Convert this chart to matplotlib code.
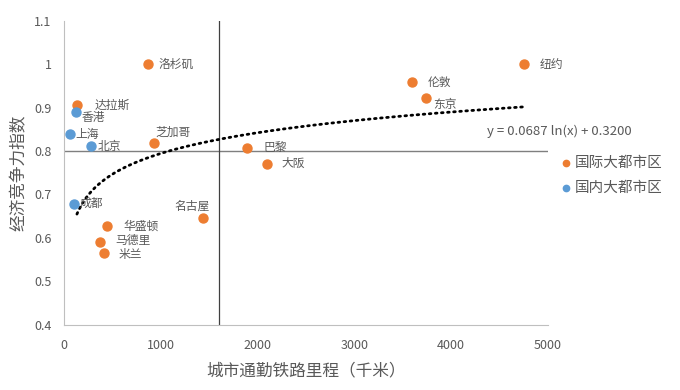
import matplotlib

matplotlib.use("Agg")
import matplotlib.pyplot as plt
import numpy as np

plt.rcParams["font.family"] = ["Noto Sans CJK SC", "DejaVu Sans"]

# International metro areas (orange)
intl_names = ["洛杉矶", "达拉斯", "芝加哥", "巴黎", "大阪", "名古屋", "华盛顿",
              "马德里", "米兰", "伦敦", "东京", "纽约"]
intl_km = [862, 131, 927, 1885, 2092, 1437, 444, 372, 407, 3601, 3742, 4759]
intl_idx = [1.000, 0.905, 0.818, 0.808, 0.771, 0.647, 0.627, 0.591, 0.566,
            0.959, 0.922, 1.000]

# Domestic metro areas (blue)
dom_names = ["香港", "上海", "北京", "成都"]
dom_km = [121, 59, 276, 97]
dom_idx = [0.889, 0.839, 0.811, 0.679]

# Log trendline for the international series
trend_a, trend_b = 0.0687, 0.3200
ref_x, ref_y = 1600, 0.8

# label offsets in points (dx, dy, ha)
label_pos = {
    "洛杉矶": (8, 0, "left"), "达拉斯": (13, 0, "left"), "芝加哥": (1, 8, "left"),
    "巴黎": (12, 0, "left"), "大阪": (11, 0, "left"), "名古屋": (-8, 8, "center"),
    "华盛顿": (12, 0, "left"), "马德里": (11, 1, "left"), "米兰": (11, -1, "left"),
    "伦敦": (11, 0, "left"), "东京": (5, -5, "left"), "纽约": (11, 0, "left"),
    "香港": (4, -4, "left"), "上海": (4, 0, "left"), "北京": (5, 0, "left"),
    "成都": (4, 0, "left"),
}

ORANGE = "#ED7D31"
BLUE = "#5B9BD5"
TXT = "#595959"

fig = plt.figure(figsize=(6.8, 3.9), dpi=100)
ax = fig.add_axes([0.0945, 0.167, 0.711, 0.78])

ax.axhline(ref_y, color="#7f7f7f", lw=1.0, zorder=1)
ax.axvline(ref_x, color="#404040", lw=0.9, zorder=1)

xs = np.linspace(min(intl_km), max(intl_km), 300)
ax.plot(xs, trend_a * np.log(xs) + trend_b, color="black", lw=2.0,
        linestyle=(0, (0.6, 1.6)), dash_capstyle="round", zorder=2)

ax.scatter(intl_km, intl_idx, s=42, color=ORANGE, zorder=3, label="国际大都市区")
ax.scatter(dom_km, dom_idx, s=42, color=BLUE, zorder=3, label="国内大都市区")

for names, xv, yv in ((intl_names, intl_km, intl_idx), (dom_names, dom_km, dom_idx)):
    for n, x, y in zip(names, xv, yv):
        dx, dy, ha = label_pos[n]
        ax.annotate(n, (x, y), xytext=(dx, dy), textcoords="offset points",
                    ha=ha, va="center", fontsize=8.5, color=TXT)

ax.text(0.875, 0.635, "y = 0.0687 ln(x) + 0.3200", transform=ax.transAxes,
        fontsize=9.5, color=TXT, ha="left", va="center")

ax.set_xlim(0, 5000)
ax.set_ylim(0.4, 1.1)
ax.set_xticks(range(0, 5001, 1000))
ax.set_yticks([0.4, 0.5, 0.6, 0.7, 0.8, 0.9, 1.0, 1.1])
ax.set_yticklabels(["0.4", "0.5", "0.6", "0.7", "0.8", "0.9", "1", "1.1"])
ax.tick_params(length=0, labelsize=9, colors=TXT)
ax.tick_params(axis="x", pad=10)
ax.tick_params(axis="y", pad=9)
for s in ("top", "right"):
    ax.spines[s].set_visible(False)
for s in ("left", "bottom"):
    ax.spines[s].set_color("#bfbfbf")

ax.set_xlabel("城市通勤铁路里程（千米）", fontsize=12, color=TXT, labelpad=8)
ax.set_ylabel("经济竞争力指数", fontsize=12, color=TXT, labelpad=5)

fig.legend(loc="upper left", bbox_to_anchor=(0.815, 0.615), frameon=False,
           fontsize=10.5, labelcolor=TXT, handletextpad=0.2, markerscale=0.7,
           borderaxespad=0, labelspacing=0.75, handlelength=0.8)

fig.savefig("out.png", dpi=100)
